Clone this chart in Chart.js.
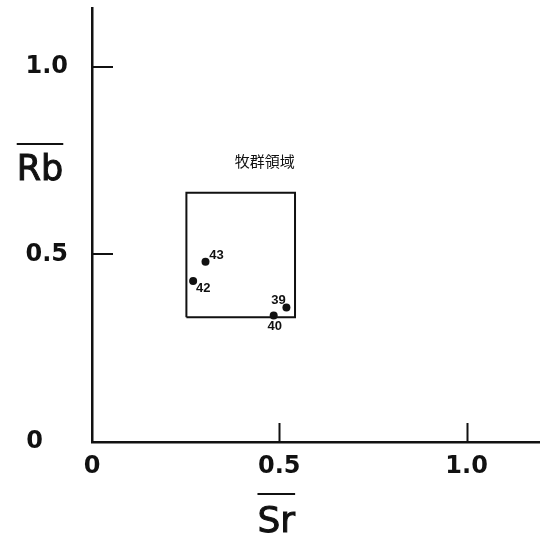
<!DOCTYPE html>
<html>
<head>
<meta charset="utf-8">
<script src="https://cdn.jsdelivr.net/npm/chart.js@4.4.1/dist/chart.umd.min.js"></script>
<style>
  html, body { margin: 0; padding: 0; background: #fff; overflow: hidden; }
  canvas { display: block; }
</style>
</head>
<body>
<canvas id="myChart" width="540" height="536"></canvas>
<script>
// data
var sampleIds = ['39', '40', '42', '43']
var sampleSr = [0.519, 0.485, 0.270, 0.303]
var sampleRb = [0.358, 0.337, 0.429, 0.480]

// herd region box (closed outline)
var regionSr = [0.252, 0.252, 0.542, 0.542, 0.252]
var regionRb = [0.332, 0.664, 0.664, 0.332, 0.332]
var regionName = '牧群領域'
var regionNameAt = [0.461, 0.749]

var tickValues = [0, 0.5, 1.0]
var xTickLabels = ['0', '0.5', '1.0']
var yTickLabels = ['0', '0.5', '1.0']
var xMax = 1.196
var yMax = 1.156

var ink = '#111'
var fontFamily = '"DejaVu Sans", sans-serif'

// label offsets around each dot, in px
var idOffsets = {
  '39': [-8, -7],
  '40': [1, 11],
  '42': [10, 7],
  '43': [11, -6]
}

function pts (xs, ys) {
  return xs.map(function (x, i) { return { x: x, y: ys[i] } })
}

function noAutoPadding (s) {
  s.paddingTop = 0
  s.paddingBottom = 0
  s.paddingLeft = 0
  s.paddingRight = 0
}

var extras = {
  id: 'extras',
  afterDatasetsDraw: function (chart) {
    var ctx = chart.ctx
    var xs = chart.scales.x
    var ys = chart.scales.y
    var area = chart.chartArea
    ctx.save()
    ctx.strokeStyle = ink
    ctx.fillStyle = ink
    ctx.lineWidth = 2

    // inward tick marks
    tickValues.forEach(function (v) {
      if (v === 0) return
      var px = Math.round(xs.getPixelForValue(v)) + 0.5
      ctx.beginPath()
      ctx.moveTo(px, area.bottom)
      ctx.lineTo(px, area.bottom - 19)
      ctx.stroke()
      var py = Math.round(ys.getPixelForValue(v))
      ctx.beginPath()
      ctx.moveTo(area.left, py)
      ctx.lineTo(area.left + 21, py)
      ctx.stroke()
    })

    // sample numbers
    ctx.font = 'bold 13px "Liberation Sans", sans-serif'
    ctx.textAlign = 'center'
    ctx.textBaseline = 'middle'
    chart.getDatasetMeta(1).data.forEach(function (el, i) {
      var off = idOffsets[sampleIds[i]]
      ctx.fillText(sampleIds[i], el.x + off[0], el.y + off[1])
    })

    // region name
    ctx.font = '15px "Noto Sans CJK JP", sans-serif'
    ctx.fillText(regionName, xs.getPixelForValue(regionNameAt[0]), ys.getPixelForValue(regionNameAt[1]))

    // axis titles with overline
    function barTitle (text, cx, base, size, lift) {
      ctx.font = size + 'px ' + fontFamily
      ctx.textAlign = 'center'
      ctx.textBaseline = 'alphabetic'
      ctx.fillText(text, cx, base)
      ctx.lineWidth = 1
      ctx.strokeText(text, cx, base)
      var w = ctx.measureText(text).width
      ctx.lineWidth = 2
      ctx.beginPath()
      ctx.moveTo(cx - w / 2, base - lift)
      ctx.lineTo(cx + w / 2, base - lift)
      ctx.stroke()
    }
    barTitle('Rb', area.left - 52, 180, 35, 36)
    barTitle('Sr', xs.getPixelForValue(0.492), 532, 36, 38)
    ctx.restore()
  }
}

var ctx = document.getElementById('myChart')
// eslint-disable-next-line no-unused-vars
var myChart = new Chart(ctx, {
  type: 'scatter',
  data: {
    datasets: [{
      data: pts(regionSr, regionRb),
      showLine: true,
      borderColor: ink,
      borderWidth: 2,
      pointRadius: 0,
      fill: false,
      tension: 0
    }, {
      data: pts(sampleSr, sampleRb),
      pointRadius: 4,
      backgroundColor: ink,
      borderWidth: 0,
      showLine: false
    }]
  },
  options: {
    responsive: false,
    animation: false,
    layout: { autoPadding: false, padding: { top: 8, right: 0, left: 0, bottom: 0 } },
    plugins: {
      legend: { display: false },
      tooltip: { enabled: false }
    },
    scales: {
      x: {
        type: 'linear',
        position: 'bottom',
        min: 0,
        max: xMax,
        afterFit: function (s) { s.height = 94; noAutoPadding(s) },
        afterBuildTicks: function (s) {
          s.ticks = tickValues.map(function (v) { return { value: v } })
        },
        grid: { display: false, drawTicks: false },
        border: { display: true, color: ink, width: 2.5 },
        ticks: {
          padding: 10,
          maxRotation: 0,
          color: ink,
          font: { family: fontFamily, size: 24, weight: 'bold' },
          callback: function (v, i) { return xTickLabels[i] }
        }
      },
      y: {
        type: 'linear',
        position: 'left',
        min: 0,
        max: yMax,
        afterFit: function (s) { s.width = 92; noAutoPadding(s) },
        afterBuildTicks: function (s) {
          s.ticks = tickValues.map(function (v) { return { value: v } })
        },
        grid: { display: false, drawTicks: false },
        border: { display: true, color: ink, width: 2.5 },
        ticks: {
          padding: 24,
          color: ink,
          font: { family: fontFamily, size: 24, weight: 'bold' },
          callback: function (v, i) {
            // the origin label sits further left in the figure
            return i === 0 ? yTickLabels[i] + '   ' : yTickLabels[i]
          }
        }
      }
    }
  },
  plugins: [extras]
})
</script>
</body>
</html>
